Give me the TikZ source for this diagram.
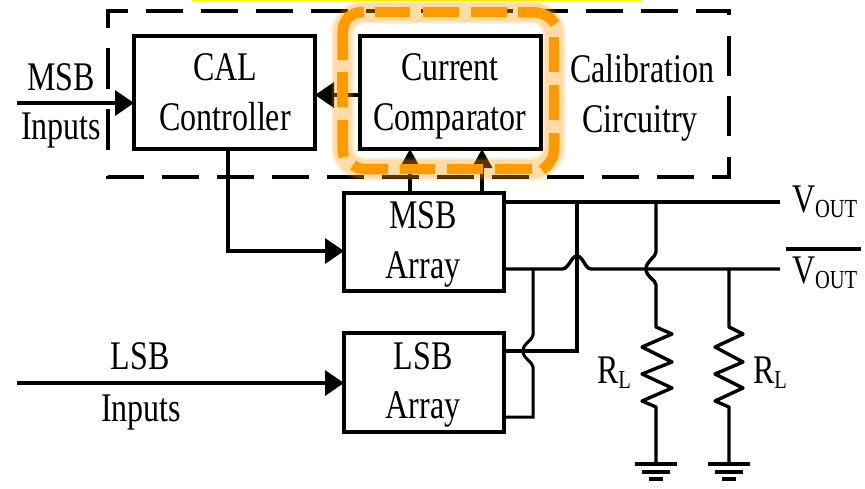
\documentclass[tikz,border=0pt]{standalone}
\usepackage{fontspec}
\usepackage{graphicx}
\setmainfont{Liberation Serif}
\usetikzlibrary{arrows.meta}
\newcommand{\tx}[1]{\scalebox{1}[1.27]{#1}}
\newcommand{\subtxt}[1]{\raisebox{-4pt}{\fontsize{20.5}{20}\selectfont #1}}
\definecolor{orange1}{HTML}{FF9A00}
\tikzset{
  wire/.style={line width=3.4pt,line join=miter},
  thinwire/.style={line width=3pt},
  arr/.style={wire,-{Triangle[length=19pt,width=25pt]}},
  arrup/.style={wire,-{Triangle[length=19pt,width=20pt]}},
  box/.style={draw,line width=3.7pt,inner sep=0pt,outer sep=0pt,fill=white},
  lbl/.style={inner sep=0pt,outer sep=0pt,anchor=base,font=\fontsize{32}{32}\selectfont},
  cdash/.style={line width=3.3pt,dash pattern=on 37pt off 18pt},
  halo/.style={draw=orange1,rounded corners=22pt},
  hilite/.style={line width=10.5pt,draw=orange1,line cap=butt},
  gnd/.style={line width=3.4pt}
}
\begin{document}
\begin{tikzpicture}[x=1pt,y=-1pt]
\useasboundingbox (0,0) rectangle (865,488);
\fill[yellow] (192,0) rectangle (641,1.2);
% dashed enclosure
\coordinate (dtl) at (108,11);
\coordinate (dbr) at (729,177);
\draw[cdash] (108,28) -- (dtl) -- (dtl -| dbr) -- (729,17);
\draw[line width=3.3pt,dash pattern=on 40pt off 20pt] (729,36) -- (729,137);
\draw[cdash] (729,157) -- (dbr) -- (dtl |- dbr) -- (108,171);
\draw[line width=3.3pt,dash pattern=on 41pt off 20pt] (108,48) -- (108,151);
% boxes
\node[box,minimum width=181pt,minimum height=113pt] (cal) at (224.5,92.5) {};
\node[box,minimum width=181pt,minimum height=113pt] (cmp) at (450.5,92.5) {};
\node[box,minimum width=160pt,minimum height=98pt] (msb) at (424,242) {};
\node[box,minimum width=160pt,minimum height=99pt] (lsb) at (424,382.5) {};
% labels
\node[lbl] (a1) at (225,80) {\tx{CAL}};
\node[lbl] (a2) at (225,130) {\tx{Controller}};
\node[lbl] (b1) at (450,80) {\tx{Current}};
\node[lbl] (b2) at (450,130) {\tx{Comparator}};
\node[lbl] (c1) at (423,228) {\tx{MSB}};
\node[lbl] (c2) at (423,278) {\tx{Array}};
\node[lbl] (d1) at (423,369) {\tx{LSB}};
\node[lbl] (d2) at (423,418) {\tx{Array}};
\node[lbl] (t1) at (61,90) {\tx{MSB}};
\node[lbl] (t2) at (61,139) {\tx{Inputs}};
\node[lbl] (t3) at (642,82) {\tx{Calibration}};
\node[lbl] (t4) at (640,132) {\tx{Circuitry}};
\node[lbl] (t5) at (140,369) {\tx{LSB}};
\node[lbl] (t6) at (141,421) {\tx{Inputs}};
\node[lbl,anchor=base west] (v1) at (792,212) {\tx{V\subtxt{OUT}}};
\node[lbl,anchor=base west] (v2) at (792,283) {\tx{V\subtxt{OUT}}};
\node[lbl,anchor=base west] (r1) at (597,383) {\tx{R\subtxt{L}}};
\node[lbl,anchor=base west] (r2) at (753,383) {\tx{R\subtxt{L}}};
\coordinate (ob1) at (786,249);
\coordinate (ob2) at (861,249);
\draw[line width=3.4pt] (ob1) -- (ob2);
% signal arrows
\coordinate (in1) at (17,103);
\coordinate (in2) at (17,383);
\coordinate (ctl) at (228,251);
\coordinate (u1) at (410,193);
\coordinate (u2) at (482,193);
\draw[arr] (in1) -- (in1 -| cal.west);
\draw[arr] (in2) -- (in2 -| lsb.west);
\draw[arr] (cmp.west |- 0,95) -- (cal.east |- 0,95);
\draw[arr] (cal.south -| ctl) -- (ctl) -- (ctl -| msb.west);
\draw[arrup] (u1) -- (u1 |- cmp.south);
\draw[arrup] (u2) -- (u2 |- cmp.south);
% outputs
\coordinate (o1) at (780,202);
\coordinate (o2) at (780,269);
\coordinate (j1) at (577,202);
\coordinate (j2) at (656,202);
\coordinate (j3) at (729,269);
\coordinate (j4) at (533,269);
\draw[wire] (o1 -| msb.east) -- (o1);
\draw[wire] (o2 -| msb.east) -- (562,269) .. controls (569,269) and (571,256) .. (577,256) .. controls (583,256) and (585,269) .. (591,269) -- (o2);
\draw[wire] (j1) -- (577,351) -- (lsb.east |- 0,351);
\draw[thinwire] (j4) -- (533,335) .. controls (533,340) and (523,343) .. (523,351) .. controls (523,359) and (533,362) .. (533,367) -- (533,417) -- (lsb.east |- 0,417);
% resistors and grounds
\coordinate (g1) at (656,464);
\coordinate (g2) at (729,464);
\draw[wire,line join=round] (j2) -- (656,252) .. controls (656,257) and (646,261) .. (646,269) .. controls (646,277) and (656,280) .. (656,285) -- (656,327) -- (672,334) -- (642,347) -- (672,362) -- (642,374) -- (672,388) -- (642,401) -- (656,407) -- (g1);
\draw[wire,line join=round] (j3) -- (729,327) -- (743,334) -- (715,347) -- (743,362) -- (715,374) -- (743,388) -- (715,401) -- (729,407) -- (g2);
\foreach \g in {g1,g2}{
  \draw[gnd] ([xshift=-21pt]\g) -- ([xshift=21pt]\g);
  \draw[gnd] ([shift={(-14pt,-8pt)}]\g) -- ([shift={(14pt,-8pt)}]\g);
  \draw[gnd] ([shift={(-7pt,-15pt)}]\g) -- ([shift={(7pt,-15pt)}]\g);
}
% highlight: soft glow
\coordinate (h1) at (342.5,12);
\coordinate (h2) at (554,169);
\draw[halo,line width=24pt,opacity=.10] (h1) rectangle (h2);
\draw[halo,line width=21pt,opacity=.14] (h1) rectangle (h2);
\draw[halo,line width=18pt,opacity=.16] (h1) rectangle (h2);
% highlight: dashes
\draw[hilite] (342.5,60) -- (342.5,34) .. controls (342.5,20) and (350,12) .. (364,12);
\draw[hilite] (375,12) -- (410,12) (423,12) -- (459,12) (471,12) -- (507,12);
\draw[hilite] (518,12) -- (530,12) .. controls (542,12) and (550,16) .. (555,24);
\draw[hilite] (554,37) -- (554,72) (554,85) -- (554,120);
\draw[hilite] (554,133) -- (554,148) .. controls (554,158) and (550,164) .. (542,170);
\draw[hilite] (532,169) -- (495,169) (483,169) -- (447,169) (435,169) -- (400,169);
\draw[hilite] (388,169) -- (364,169) .. controls (360,169) and (357,168) .. (353,165);
\draw[hilite] (342.5,120) -- (342.5,148) .. controls (342.5,151) and (343,154) .. (344,157);
\draw[hilite] (342.5,72) -- (342.5,107);
\end{tikzpicture}
\end{document}
